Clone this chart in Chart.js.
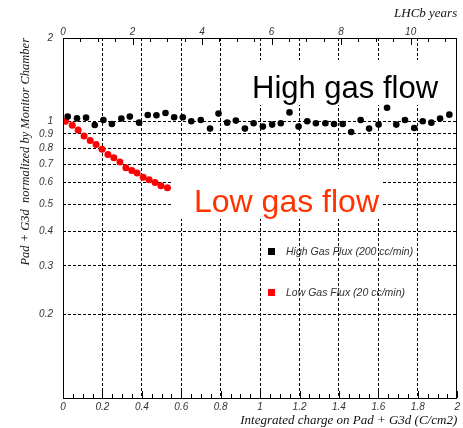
<!DOCTYPE html>
<html>
<head>
<meta charset="utf-8">
<script src="https://cdn.jsdelivr.net/npm/chart.js@4.4.0/dist/chart.umd.min.js"></script>
<style>
  html, body { margin: 0; padding: 0; background: #fff; }
</style>
</head>
<body>
<canvas id="c" width="463" height="428"></canvas>
<script>
// data
const highX = [0.024, 0.071, 0.117, 0.161, 0.205, 0.248, 0.296, 0.339, 0.386, 0.430, 0.474, 0.520, 0.564, 0.608, 0.651, 0.699, 0.746, 0.789, 0.833, 0.877, 0.923, 0.967, 1.014, 1.061, 1.105, 1.149, 1.195, 1.239, 1.283, 1.331, 1.375, 1.419, 1.462, 1.510, 1.553, 1.601, 1.644, 1.691, 1.735, 1.782, 1.825, 1.869, 1.913, 1.960];
const highY = [1.040, 1.025, 1.031, 0.970, 1.011, 0.978, 1.023, 1.040, 0.989, 1.054, 1.051, 1.071, 1.034, 1.034, 1.000, 1.011, 0.941, 1.066, 0.989, 1.006, 0.941, 0.984, 0.957, 0.973, 0.984, 1.077, 0.957, 1.000, 0.984, 0.984, 0.978, 0.978, 0.915, 1.011, 0.941, 0.973, 1.120, 0.973, 1.011, 0.946, 1.000, 0.989, 1.023, 1.057];
const lowX = [0.013, 0.047, 0.077, 0.107, 0.138, 0.168, 0.198, 0.228, 0.258, 0.289, 0.319, 0.349, 0.376, 0.407, 0.437, 0.467, 0.497, 0.530];
const lowY = [1.000, 0.967, 0.930, 0.885, 0.852, 0.824, 0.793, 0.759, 0.738, 0.713, 0.679, 0.664, 0.650, 0.628, 0.615, 0.601, 0.585, 0.575];

const yTicks = [0.2, 0.3, 0.4, 0.5, 0.6, 0.7, 0.8, 0.9, 1, 2];
const yTickLabels = ['0.2', '0.3', '0.4', '0.5', '0.6', '0.7', '0.8', '0.9', '1', '2'];
const xTickLabels = ['0', '0.2', '0.4', '0.6', '0.8', '1', '1.2', '1.4', '1.6', '1.8', '2'];
const yearTickLabels = ['0', '2', '4', '6', '8', '10'];
const yearsPerCharge = 5.67;

const tickFont = { family: '"Liberation Sans", Arial, sans-serif', size: 10, style: 'italic' };
const titleFont = { family: '"Liberation Serif", "Times New Roman", serif', size: 13, style: 'italic' };
const dash = [3, 2];
const clear = 'rgba(0,0,0,0)';

function pts(xs, ys) {
    return xs.map((x, i) => ({ x: x, y: ys[i] }));
}

// ROOT style inward tick marks, long on labelled ticks
function innerTicks(ctx, scale, down) {
    const y0 = down ? scale.bottom : scale.top;
    scale.ticks.forEach((t, i) => {
        const px = Math.round(scale.getPixelForValue(t.value)) + 0.5;
        const len = i % 4 === 0 ? 7 : 4;
        ctx.beginPath();
        ctx.moveTo(px, y0);
        ctx.lineTo(px, down ? y0 + len : y0 - len);
        ctx.stroke();
    });
}

const notes = {
    id: 'notes',
    beforeDatasetsDraw(chart) {
        const ctx = chart.ctx;
        ctx.save();
        ctx.fillStyle = '#fff';
        ctx.fillRect(245, 60, 205, 45);
        ctx.fillRect(173, 169, 209, 50);
        ctx.restore();
    },
    afterDraw(chart) {
        const ctx = chart.ctx;
        const a = chart.chartArea;
        ctx.save();
        ctx.strokeStyle = '#000';
        ctx.lineWidth = 1;
        ctx.strokeRect(Math.round(a.left) + 0.5, Math.round(a.top) + 0.5,
            Math.round(a.right - a.left) - 1, Math.round(a.bottom - a.top));
        innerTicks(ctx, chart.scales.x, false);
        innerTicks(ctx, chart.scales.x2, true);

        ctx.textBaseline = 'alphabetic';
        ctx.textAlign = 'left';
        ctx.fillStyle = '#000';
        ctx.font = '31px "Liberation Sans", Arial, sans-serif';
        ctx.fillText('High gas flow', 252, 98);
        ctx.fillStyle = '#ff3300';
        ctx.font = '32px "Liberation Sans", Arial, sans-serif';
        ctx.fillText('Low gas flow', 194, 212);

        // legend
        const rows = [252, 293];
        ctx.font = 'italic 10.5px "Liberation Sans", Arial, sans-serif';
        ctx.textBaseline = 'middle';
        chart.data.datasets.forEach((ds, i) => {
            ctx.fillStyle = ds.backgroundColor;
            ctx.fillRect(268, rows[i] - 4, 7, 7);
            ctx.fillStyle = '#333';
            ctx.fillText(ds.label, 286, rows[i]);
        });
        ctx.restore();
    }
};

new Chart(document.getElementById('c'), {
    type: 'scatter',
    data: {
        datasets: [
            {
                label: 'High Gas Flux (200 cc/min)',
                data: pts(highX, highY),
                backgroundColor: '#000',
                borderWidth: 0,
                pointRadius: 3.3,
                pointHoverRadius: 3.3
            },
            {
                label: 'Low Gas Flux (20 cc/min)',
                data: pts(lowX, lowY),
                backgroundColor: '#ff0000',
                borderWidth: 0,
                pointRadius: 3.5,
                pointHoverRadius: 3.5
            }
        ]
    },
    options: {
        responsive: false,
        animation: false,
        devicePixelRatio: 1,
        layout: { padding: { left: 0, right: 3, top: 0, bottom: 0 } },
        plugins: { legend: { display: false }, tooltip: { enabled: false } },
        scales: {
            x: {
                type: 'linear',
                position: 'bottom',
                min: 0,
                max: 2,
                afterBuildTicks: s => {
                    s.ticks = [];
                    for (let i = 0; i <= 40; i++) s.ticks.push({ value: i * 0.05 });
                },
                afterFit: s => { s.height = 30; },
                ticks: {
                    autoSkip: false,
                    maxRotation: 0,
                    padding: 3,
                    color: '#333',
                    font: tickFont,
                    callback: (v, i) => (i % 4 === 0 ? xTickLabels[i / 4] : '')
                },
                grid: {
                    color: c => (c.index % 4 === 0 && c.index > 0 && c.index < 40 ? '#000' : clear),
                    drawTicks: false
                },
                border: { display: false, dash: dash },
                title: {
                    display: true,
                    text: 'Integrated charge on Pad + G3d (C/cm2)',
                    align: 'end',
                    color: '#111',
                    font: titleFont,
                    padding: { top: 0, bottom: 0 }
                }
            },
            x2: {
                type: 'linear',
                position: 'top',
                min: 0,
                max: 2 * yearsPerCharge,
                afterBuildTicks: s => {
                    s.ticks = [];
                    for (let i = 0; i * 0.5 <= s.max; i++) s.ticks.push({ value: i * 0.5 });
                },
                afterFit: s => { s.height = 38; },
                ticks: {
                    autoSkip: false,
                    maxRotation: 0,
                    padding: 0,
                    color: '#333',
                    font: tickFont,
                    callback: (v, i) => (i % 4 === 0 ? yearTickLabels[i / 4] : '')
                },
                grid: { drawOnChartArea: false, drawTicks: false },
                border: { display: false },
                title: {
                    display: true,
                    text: 'LHCb years',
                    align: 'end',
                    color: '#111',
                    font: titleFont,
                    padding: { top: 6, bottom: 0 }
                }
            },
            y: {
                type: 'logarithmic',
                position: 'left',
                min: 0.1,
                max: 2,
                afterBuildTicks: s => { s.ticks = yTicks.map(v => ({ value: v })); },
                afterFit: s => { s.width = 63; },
                ticks: {
                    autoSkip: false,
                    padding: 10,
                    color: '#333',
                    font: tickFont,
                    callback: (v, i) => yTickLabels[i]
                },
                grid: {
                    color: c => (c.tick && c.tick.value < 2 ? '#000' : clear),
                    drawTicks: false
                },
                border: { display: false, dash: dash },
                title: {
                    display: true,
                    text: 'Pad + G3d  normalized by Monitor Chamber',
                    align: 'end',
                    color: '#111',
                    font: { family: titleFont.family, size: 12.5, style: 'italic' },
                    padding: { top: 18, bottom: 0 }
                }
            }
        }
    },
    plugins: [notes]
});
</script>
</body>
</html>
